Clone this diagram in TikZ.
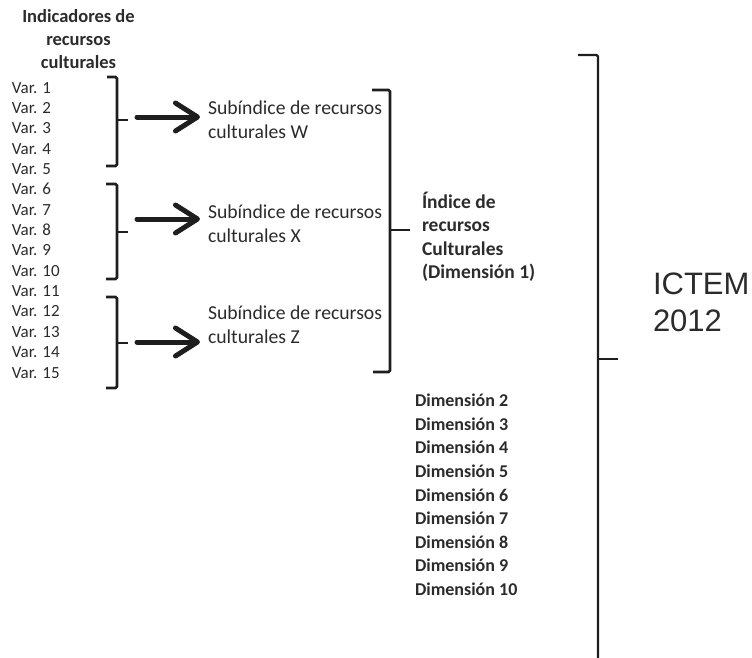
\documentclass[tikz,border=0pt]{standalone}
\usepackage{fontspec}
\setmainfont{Carlito}
\newfontfamily\icfont{Liberation Sans}
\usetikzlibrary{arrows.meta}
\definecolor{ink}{HTML}{1E1E1E}
\definecolor{txt}{HTML}{2B2B2B}
\begin{document}
\begin{tikzpicture}[x=1pt,y=-1pt,
  every node/.style={inner sep=0pt, outer sep=0pt, text=txt},
  varlab/.style={anchor=base west, font=\fontsize{17}{20}\selectfont},
  hdr/.style={font=\fontsize{18.5}{23}\selectfont\bfseries, align=center, anchor=north},
  sublab/.style={font=\fontsize{19.7}{24}\selectfont, align=left, anchor=north west},
  idxlab/.style={font=\fontsize{19.5}{23.5}\selectfont\bfseries, align=left, anchor=north west},
  dimlab/.style={font=\fontsize{18}{23.6}\selectfont\bfseries, align=left, anchor=north west},
  totlab/.style={font=\icfont\fontsize{31}{37}\selectfont, align=left, anchor=north west},
  brk/.style={draw=ink, line width=2.6pt, rounded corners=1.5pt},
  bigbrk/.style={draw=ink, line width=2.2pt, rounded corners=1.5pt},
  arr/.style={draw=ink, line width=5pt, line cap=round, -{Straight Barb[length=22pt,width=28pt,round]}, shorten >=8pt},
]
\useasboundingbox (0,0) rectangle (752,657);

% header
\node[hdr] (hdr) at (78.5,10) {Indicadores de\\recursos\\culturales};

% variables
\foreach \i in {1,...,15}
  \node[varlab] (v\i) at (12,{93+(\i-1)*20.36}) {Var. \i};

% sub-indices
\node[sublab] (subW) at (208,100.5) {Subíndice de recursos\\culturales W};
\node[sublab] (subX) at (208,204.5) {Subíndice de recursos\\culturales X};
\node[sublab] (subZ) at (208,305.5) {Subíndice de recursos\\culturales Z};

% index dimension 1
\node[idxlab] (idx) at (422,192) {Índice de\\recursos\\Culturales\\(Dimensión 1)};

% other dimensions
\node[dimlab] (dims) at (415,394) {Dimensión 2\\Dimensión 3\\Dimensión 4\\Dimensión 5\\Dimensión 6\\Dimensión 7\\Dimensión 8\\Dimensión 9\\Dimensión 10};

% total
\node[totlab] (ictem) at (653,273) {ICTEM\\2012};

% small brackets
\draw[brk] (107,77) -- (117,77) -- (117,166) -- (106,166);
\draw[brk] (117,120) -- (128,120);
\draw[brk] (106,184) -- (117,184) -- (117,279) -- (106,279);
\draw[brk] (117,232) -- (128,232);
\draw[brk] (106,297) -- (117,297) -- (117,388) -- (106,388);
\draw[brk] (117,343) -- (128,343);

% arrows
\coordinate (a1) at (137,117);
\coordinate (a2) at (137,219);
\coordinate (a3) at (137,342);
\draw[arr] (a1) -- (a1 -| subW.west);
\draw[arr] (a2) -- (a2 -| subX.west);
\draw[arr] (a3) -- (a3 -| subZ.west);

% middle bracket
\draw[brk] (372,90) -- (390,90) -- (390,372) -- (373,372);
\draw[brk] (390,230) -- (410,230);

% big bracket
\draw[bigbrk] (578,55) -- (598,55) -- (598,660);
\draw[bigbrk] (598,359) -- (618,359);
\end{tikzpicture}
\end{document}
